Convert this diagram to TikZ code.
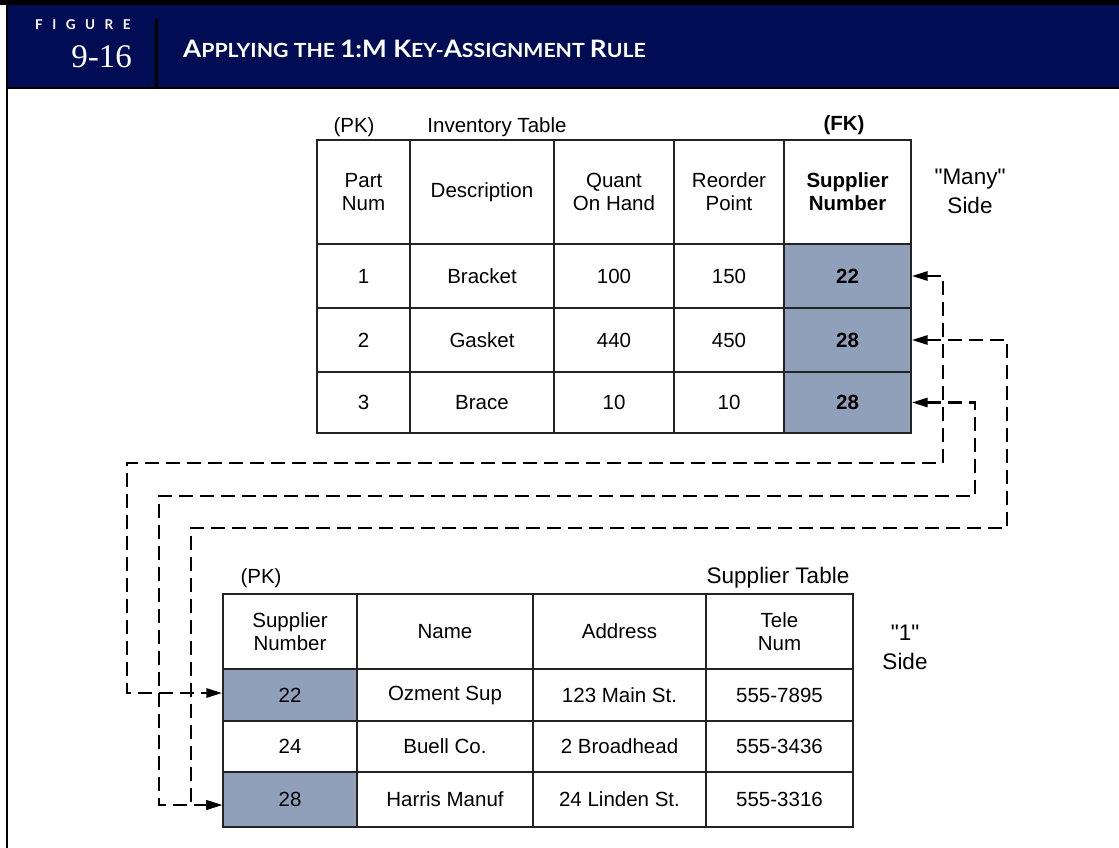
\documentclass[tikz,border=0pt]{standalone}
\usepackage{fontspec}
\setmainfont{Liberation Sans}[Ligatures=TeXOff]
\newfontfamily\titlefont{Lato}
\newfontfamily\serifnum{Liberation Serif}
\usetikzlibrary{arrows.meta}
\definecolor{navy}{RGB}{0,13,84}
\definecolor{keyfill}{RGB}{145,160,186}
\definecolor{gridc}{RGB}{35,35,35}
\newcommand\bigc[1]{{\fontsize{24}{24}\selectfont #1}}
\newcommand\smc[1]{{\fontsize{19.5}{19.5}\selectfont #1}}
\newcommand\cellat[7]{\node[cell,#7,minimum width={#4pt-#2pt},minimum height={#5pt-#3pt}] (#1) at ({(#2+#4)/2},{(#3+#5)/2}) {#6};}
\tikzset{
 cell/.style={draw=gridc, line width=1.3pt, inner sep=0pt, align=center, font=\fontsize{20.5}{23}\selectfont},
 keycell/.style={fill=keyfill},
 boldtext/.style={font=\fontsize{20.5}{23}\selectfont\bfseries},
 lbl/.style={inner sep=0pt, align=center, font=\fontsize{20.5}{24}\selectfont},
 biglbl/.style={inner sep=0pt, align=center, font=\fontsize{22.5}{29}\selectfont},
 headtxt/.style={inner sep=0pt, text=white},
 link/.style={draw=black, line width=2.8pt, dash pattern=on 14pt off 7pt, {Triangle[length=16pt,width=9pt]}-{Triangle[length=16pt,width=9pt]}},
}
\begin{document}
\begin{tikzpicture}[x=1pt,y=-1pt]
\useasboundingbox (0,0) rectangle (1119,848);
% header band and frame
\fill[navy] (7,5) rectangle (1119,87);
\fill[black] (0,0) rectangle (1119,5);
\fill[black] (5.5,0) rectangle (8,848);
\fill[black] (5.5,87) rectangle (1119,89.5);
\fill[black] (155,19) rectangle (157.5,87);
\node[headtxt, anchor=west, font=\titlefont\bfseries\fontsize{13.5}{13.5}\selectfont] (figlbl) at (35,25) {F\kern9.5pt I\kern9.5pt G\kern9.5pt U\kern9.5pt R\kern9.5pt E};
\node[headtxt, anchor=east, font=\serifnum\fontsize{33}{33}\selectfont] (fignum) at (132,57) {9-16};
\node[headtxt, anchor=west, font=\titlefont\bfseries] (title) at (183,48.5) {\scalebox{1.09}[1]{\bigc{A}\smc{PPLYING THE }\bigc{1:M K}\smc{EY-}\bigc{A}\smc{SSIGNMENT }\bigc{R}\smc{ULE}}};
% inventory table
\cellat{ih1}{317}{140}{410}{244}{Part\\Num}{}
\cellat{ih2}{410}{140}{554}{244}{Description}{}
\cellat{ih3}{554}{140}{674}{244}{Quant\\On Hand}{}
\cellat{ih4}{674}{140}{784}{244}{Reorder\\Point}{}
\cellat{ih5}{784}{140}{911}{244}{Supplier\\Number}{boldtext}
\cellat{i11}{317}{244}{410}{308}{1}{}
\cellat{i12}{410}{244}{554}{308}{Bracket}{}
\cellat{i13}{554}{244}{674}{308}{100}{}
\cellat{i14}{674}{244}{784}{308}{150}{}
\cellat{ik1}{784}{244}{911}{308}{22}{keycell,boldtext}
\cellat{i21}{317}{308}{410}{372}{2}{}
\cellat{i22}{410}{308}{554}{372}{Gasket}{}
\cellat{i23}{554}{308}{674}{372}{440}{}
\cellat{i24}{674}{308}{784}{372}{450}{}
\cellat{ik2}{784}{308}{911}{372}{28}{keycell,boldtext}
\cellat{i31}{317}{372}{410}{433}{3}{}
\cellat{i32}{410}{372}{554}{433}{Brace}{}
\cellat{i33}{554}{372}{674}{433}{10}{}
\cellat{i34}{674}{372}{784}{433}{10}{}
\cellat{ik3}{784}{372}{911}{433}{28}{keycell,boldtext}
\node[lbl] (ipk) at (354,127) {(PK)};
\node[lbl] (ititle) at (497,127) {Inventory Table};
\node[lbl, font=\fontsize{20.5}{24}\selectfont\bfseries] (ifk) at (844,125) {(FK)};
\node[biglbl] (many) at (970,191) {"Many"\\Side};
% supplier table
\cellat{sh1}{223}{594}{357}{669}{Supplier\\Number}{}
\cellat{sh2}{357}{594}{533}{669}{Name}{}
\cellat{sh3}{533}{594}{706}{669}{Address}{}
\cellat{sh4}{706}{594}{853}{669}{Tele\\Num}{}
\cellat{s1k}{223}{669}{357}{721}{22}{keycell}
\cellat{s12}{357}{669}{533}{721}{Ozment Sup}{}
\cellat{s13}{533}{669}{706}{721}{123 Main St.}{}
\cellat{s14}{706}{669}{853}{721}{555-7895}{}
\cellat{s2k}{223}{721}{357}{772}{24}{}
\cellat{s22}{357}{721}{533}{772}{Buell Co.}{}
\cellat{s23}{533}{721}{706}{772}{2 Broadhead}{}
\cellat{s24}{706}{721}{853}{772}{555-3436}{}
\cellat{s3k}{223}{772}{357}{827}{28}{keycell}
\cellat{s32}{357}{772}{533}{827}{Harris Manuf}{}
\cellat{s33}{533}{772}{706}{827}{24 Linden St.}{}
\cellat{s34}{706}{772}{853}{827}{555-3316}{}
\node[lbl] (spk) at (261,578) {(PK)};
\node[biglbl] (stitle) at (778,578) {Supplier Table};
\node[biglbl] (one) at (905,647) {"1"\\Side};
% connectors
\coordinate (a1) at (943,463); \coordinate (b1) at (127,693);
\coordinate (a2) at (1007,528); \coordinate (b2) at (191,805);
\coordinate (a3) at (975,496); \coordinate (b3) at (159,805);
\draw[link] (ik1.east) -| (a1) -| (b1) -- (b1 -| s1k.west);
\draw[link] (ik2.east) -| (a2) -| (b2) -- (b2 -| s3k.west);
\draw[link] (ik3.east) -| (a3) -| (b3) -- (b3 -| s3k.west);
\end{tikzpicture}
\end{document}
